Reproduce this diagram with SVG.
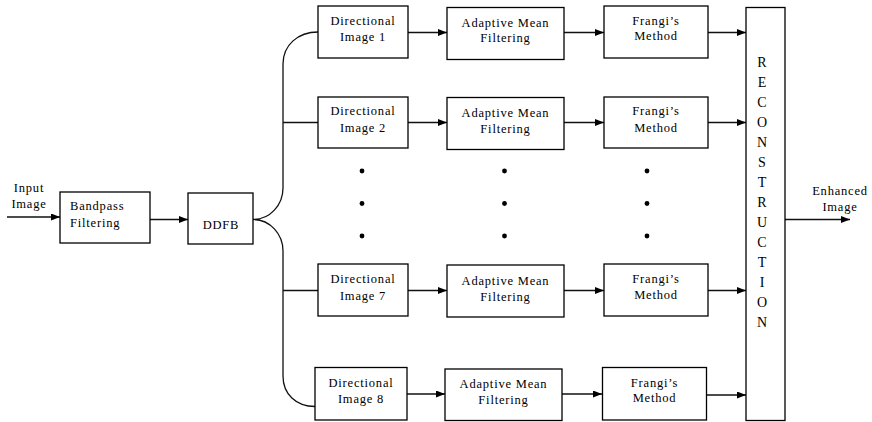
<svg xmlns="http://www.w3.org/2000/svg" width="872" height="422" viewBox="0 0 872 422">
<style>
.box{fill:#fff;stroke:#000;stroke-width:1.3}
.t{font-family:"Liberation Serif","Times New Roman",serif;font-size:12.5px;letter-spacing:0.8px;fill:#000;text-anchor:middle}
.l{text-anchor:start}
.r{font-size:14px;letter-spacing:0}
.c{fill:none;stroke:#111;stroke-width:1.3}
.dot{fill:#000}
</style>
<defs>
<marker id="ah" markerUnits="userSpaceOnUse" markerWidth="10" markerHeight="8" refX="9" refY="3.5" orient="auto">
<path d="M0,0 L9,3.5 L0,7 z" fill="#000"/>
</marker>
</defs>
<rect width="872" height="422" fill="#fff"/>

<g id="connectors">
<line class="c" x1="7" y1="217" x2="60" y2="217" marker-end="url(#ah)"/>
<line class="c" x1="150" y1="219.5" x2="188" y2="219.5" marker-end="url(#ah)"/>
<path class="c" d="M318,32 C298,32 283,45 283,64 L283,188 C283,205 270,219.5 253,219.5 C270,219.5 283,234 283,251 L283,376 C283,394 296,406.5 315,406.5"/>
<line class="c" x1="283" y1="122.5" x2="318" y2="122.5"/>
<line class="c" x1="283" y1="290.5" x2="318" y2="290.5"/>
<line class="c" x1="408" y1="32.5" x2="447" y2="32.5" marker-end="url(#ah)"/>
<line class="c" x1="408" y1="122.5" x2="447" y2="122.5" marker-end="url(#ah)"/>
<line class="c" x1="408" y1="290.5" x2="447" y2="290.5" marker-end="url(#ah)"/>
<line class="c" x1="407" y1="394" x2="445" y2="394" marker-end="url(#ah)"/>
<line class="c" x1="564" y1="32.5" x2="604" y2="32.5" marker-end="url(#ah)"/>
<line class="c" x1="564" y1="122.5" x2="604" y2="122.5" marker-end="url(#ah)"/>
<line class="c" x1="564" y1="290.5" x2="604" y2="290.5" marker-end="url(#ah)"/>
<line class="c" x1="562" y1="394" x2="602" y2="394" marker-end="url(#ah)"/>
<line class="c" x1="708" y1="32.5" x2="746" y2="32.5" marker-end="url(#ah)"/>
<line class="c" x1="708" y1="122.5" x2="746" y2="122.5" marker-end="url(#ah)"/>
<line class="c" x1="708" y1="290.5" x2="746" y2="290.5" marker-end="url(#ah)"/>
<line class="c" x1="707" y1="395" x2="746" y2="395" marker-end="url(#ah)"/>
<line class="c" x1="785" y1="219.5" x2="850" y2="219.5" marker-end="url(#ah)"/>
</g>

<g id="input-label">
<text class="t" x="29" y="192">Input</text>
<text class="t" x="29" y="208">Image</text>
</g>

<g id="bandpass">
<rect class="box" x="60" y="192" width="90" height="51"/>
<text class="t l" x="70" y="210">Bandpass</text>
<text class="t l" x="70" y="227">Filtering</text>
</g>

<g id="ddfb">
<rect class="box" x="188" y="193" width="65" height="51"/>
<text class="t" x="221" y="229">DDFB</text>
</g>

<g id="dir1">
<rect class="box" x="318" y="6" width="90" height="52"/>
<text class="t" x="363" y="25">Directional</text>
<text class="t" x="363" y="40.5">Image 1</text>
</g>
<g id="dir2">
<rect class="box" x="318" y="97" width="90" height="51"/>
<text class="t" x="363" y="115">Directional</text>
<text class="t" x="363" y="131.5">Image 2</text>
</g>
<g id="dir7">
<rect class="box" x="318" y="264" width="90" height="52"/>
<text class="t" x="363" y="283">Directional</text>
<text class="t" x="363" y="299.5">Image 7</text>
</g>
<g id="dir8">
<rect class="box" x="315" y="367.5" width="92" height="52.5"/>
<text class="t" x="361" y="386.5">Directional</text>
<text class="t" x="361" y="403">Image 8</text>
</g>

<g id="amf1">
<rect class="box" x="447" y="7.5" width="117" height="52"/>
<text class="t" x="505.5" y="26.5">Adaptive Mean</text>
<text class="t" x="505.5" y="42">Filtering</text>
</g>
<g id="amf2">
<rect class="box" x="447" y="97.5" width="117" height="52"/>
<text class="t" x="505.5" y="117">Adaptive Mean</text>
<text class="t" x="505.5" y="133">Filtering</text>
</g>
<g id="amf7">
<rect class="box" x="447" y="265" width="117" height="52"/>
<text class="t" x="505.5" y="285">Adaptive Mean</text>
<text class="t" x="505.5" y="300.5">Filtering</text>
</g>
<g id="amf8">
<rect class="box" x="445" y="369" width="117" height="51.5"/>
<text class="t" x="503.5" y="388">Adaptive Mean</text>
<text class="t" x="503.5" y="404">Filtering</text>
</g>

<g id="frangi1">
<rect class="box" x="604" y="6" width="104" height="52"/>
<text class="t" x="656" y="25">Frangi’s</text>
<text class="t" x="656" y="40">Method</text>
</g>
<g id="frangi2">
<rect class="box" x="604" y="97" width="104" height="51"/>
<text class="t" x="656" y="115">Frangi’s</text>
<text class="t" x="656" y="131.5">Method</text>
</g>
<g id="frangi7">
<rect class="box" x="604" y="264" width="104" height="52"/>
<text class="t" x="656" y="283">Frangi’s</text>
<text class="t" x="656" y="299">Method</text>
</g>
<g id="frangi8">
<rect class="box" x="602.5" y="367.5" width="104" height="52.5"/>
<text class="t" x="654.5" y="386.5">Frangi’s</text>
<text class="t" x="654.5" y="402">Method</text>
</g>

<g id="dots">
<circle class="dot" cx="362" cy="171" r="2.4"/>
<circle class="dot" cx="362" cy="203.5" r="2.4"/>
<circle class="dot" cx="362" cy="236" r="2.4"/>
<circle class="dot" cx="504.5" cy="171" r="2.4"/>
<circle class="dot" cx="504.5" cy="203.5" r="2.4"/>
<circle class="dot" cx="504.5" cy="236" r="2.4"/>
<circle class="dot" cx="647" cy="171" r="2.4"/>
<circle class="dot" cx="647" cy="203.5" r="2.4"/>
<circle class="dot" cx="647" cy="236" r="2.4"/>
</g>

<g id="reconstruction">
<rect class="box" x="746" y="7.5" width="39" height="413"/>
<text class="t r" x="762" y="66.5">R</text>
<text class="t r" x="762" y="86.5">E</text>
<text class="t r" x="762" y="106.5">C</text>
<text class="t r" x="762" y="126.5">O</text>
<text class="t r" x="762" y="146.5">N</text>
<text class="t r" x="762" y="166.5">S</text>
<text class="t r" x="762" y="186.5">T</text>
<text class="t r" x="762" y="206.5">R</text>
<text class="t r" x="762" y="226.5">U</text>
<text class="t r" x="762" y="246.5">C</text>
<text class="t r" x="762" y="266.5">T</text>
<text class="t r" x="762" y="286.5">I</text>
<text class="t r" x="762" y="306.5">O</text>
<text class="t r" x="762" y="326.5">N</text>
</g>

<g id="output-label">
<text class="t" x="840" y="195">Enhanced</text>
<text class="t" x="840" y="211">Image</text>
</g>
</svg>
